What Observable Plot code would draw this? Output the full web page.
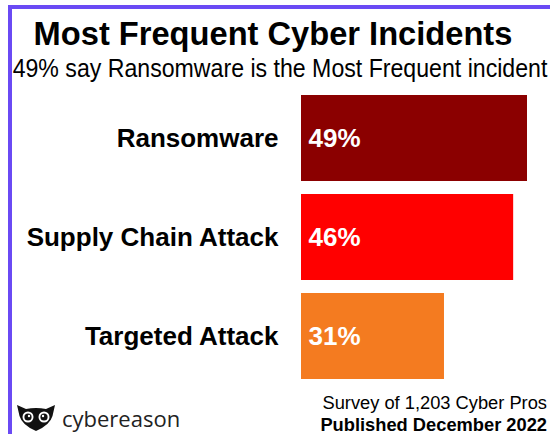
<!DOCTYPE html>
<html>
<head>
<meta charset="utf-8">
<script src="https://cdn.jsdelivr.net/npm/d3@7"></script>
<script src="https://cdn.jsdelivr.net/npm/@observablehq/plot@0.6"></script>
<style>
  html, body { margin: 0; padding: 0; background: #fff; }
  #frame { position: relative; width: 550px; height: 434px; overflow: hidden; background: #fff; font-family: "Liberation Sans", Arial, sans-serif; color: #000; }
  .bar-left { position: absolute; left: 8px; top: 5px; width: 4px; height: 440px; background: #6a4af4; }
  .bar-top { position: absolute; left: 8px; top: 5px; width: 560px; height: 4px; background: #6a4af4; }
  .txt { position: absolute; white-space: nowrap; line-height: 1; }
  #title { left: -27px; width: 600px; text-align: center; top: 16px; font-size: 34px; font-weight: bold; transform: scaleX(0.96); transform-origin: 300px 0; }
  #subtitle { left: -40px; width: 640px; text-align: center; top: 56px; font-size: 25px; transform: scaleX(0.925); transform-origin: 320px 0; }
  #chart { position: absolute; left: 0; top: 80px; }
  #survey { right: 3px; top: 394px; font-size: 18.3px; }
  #published { right: 3px; top: 416px; font-size: 18.3px; font-weight: bold; }
  #logo { position: absolute; left: 17px; top: 404px; }
  #brand { left: 62px; top: 407px; font-family: "Open Sans", sans-serif; font-size: 22px; color: #222; }
  #chart svg [aria-label="y-axis tick label"] text { font-size: 26px; font-weight: bold; fill: #000; }
</style>
</head>
<body>
<div id="frame">
  <div class="bar-left"></div>
  <div class="bar-top"></div>
  <div id="title" class="txt">Most Frequent Cyber Incidents</div>
  <div id="subtitle" class="txt">49% say Ransomware is the Most Frequent incident</div>
  <div id="chart"></div>
  <svg id="logo" width="38" height="27" viewBox="0 0 38 27">
    <path d="M0,1 L9,5 Q19,3 29,5 L38,1 L35.5,12 Q33,21 19,27 Q5,21 2.5,12 Z" fill="#111"/>
    <circle cx="11" cy="13" r="5.5" fill="#fff"/>
    <circle cx="27" cy="13" r="5.5" fill="#fff"/>
    <circle cx="11" cy="13" r="3.6" fill="#111"/>
    <circle cx="27" cy="13" r="3.6" fill="#111"/>
    <circle cx="12" cy="12" r="1.2" fill="#fff"/>
    <circle cx="26" cy="12" r="1.2" fill="#fff"/>
  </svg>
  <div id="brand" class="txt">cybereason</div>
  <div id="survey" class="txt">Survey of 1,203 Cyber Pros</div>
  <div id="published" class="txt">Published December 2022</div>
</div>
<script>
const categories = ["Ransomware", "Supply Chain Attack", "Targeted Attack"];
const values = [49, 46, 31];
const colors = ["#8b0000", "#ff0000", "#f47b20"];

const data = categories.map((c, i) => ({category: c, value: values[i]}));

const chart = Plot.plot({
  width: 550,
  height: 314,
  marginTop: 1,
  marginBottom: 1,
  marginLeft: 301,
  marginRight: 23,
  style: {fontFamily: "'Liberation Sans', Arial, sans-serif", color: "#000", background: "transparent"},
  x: {domain: [0, 49], axis: null},
  y: {domain: categories, padding: 0.136, axis: null},
  color: {domain: categories, range: colors},
  marks: [
    Plot.barX(data, {x: "value", y: "category", fill: "category"}),
    Plot.text(data, {
      x: 0, y: "category", text: d => d.value + "%",
      dx: 7, textAnchor: "start", fill: "#fff",
      fontSize: 26, fontWeight: "bold"
    }),
    Plot.axisY({tickSize: 0, tickPadding: 23, label: null, fontSize: 26, fontWeight: "bold"})
  ]
});
document.getElementById("chart").appendChild(chart);
</script>
</body>
</html>
